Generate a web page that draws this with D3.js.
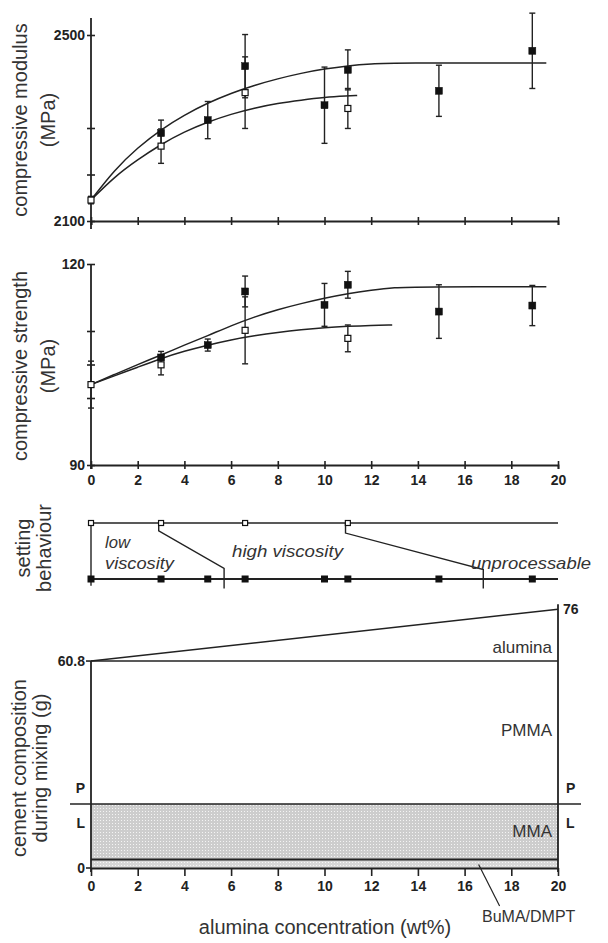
<!DOCTYPE html>
<html>
<head>
<meta charset="utf-8">
<script src="https://cdn.jsdelivr.net/npm/d3@7"></script>
<style>
  body { margin: 0; background: #fff; }
  svg { display: block; font-family: "Liberation Sans", Arial, sans-serif; }
</style>
</head>
<body>
<svg id="fig" width="608" height="943"></svg>
<script>
// ---- data ----
// alumina concentration (wt%) of the tested cements
var concFilled = [3, 5, 6.6, 10, 11, 14.9, 18.9];
var concOpen = [0, 3, 6.6, 11];
var xTickValues = [0, 2, 4, 6, 8, 10, 12, 14, 16, 18, 20];

// compressive modulus (MPa)
var modFilled = [2289, 2317, 2433, 2349, 2425, 2380, 2466];
var modFilledErr = [28, 40, 68, 82, 43, 55, 81];
var modOpen = [2145, 2261, 2376, 2342];
var modOpenErr = [8, 37, 77, 43];
var modFitFilledX = [0, 1, 2, 3, 4, 5, 6, 7, 8, 9, 10, 11, 12, 13, 19.5];
var modFitFilledY = [2145, 2210, 2258, 2297, 2328, 2354, 2375, 2392, 2406, 2418, 2427, 2434, 2438, 2440, 2440];
var modFitOpenX = [0, 1, 2, 3, 4, 5, 6, 7, 8, 9, 10, 11, 11.4];
var modFitOpenY = [2145, 2195, 2232, 2265, 2292, 2313, 2330, 2343, 2353, 2360, 2366, 2369, 2370];
var modTicks = [2100, 2200, 2300, 2500];

// compressive strength (MPa)
var strFilled = [106.05, 107.9, 115.9, 113.9, 116.9, 112.9, 113.8];
var strFilledErr = [0.9, 0.9, 2.3, 3.2, 2.0, 4.0, 3.0];
var strOpen = [102.0, 104.95, 110.1, 108.9];
var strOpenErr = [3.5, 1.5, 5.0, 2.0];
var strFitFilledX = [0, 1, 2, 3, 4, 5, 6, 7, 8, 9, 10, 11, 12, 13, 14, 19.5];
var strFitFilledY = [102, 103.5, 105, 106.4, 107.9, 109.3, 110.8, 112.1, 113.2, 114.1, 114.9, 115.6, 116.1, 116.5, 116.6, 116.6];
var strFitOpenX = [0, 1, 2, 3, 4, 5, 6, 7, 8, 9, 10, 11, 12, 12.9];
var strFitOpenY = [102, 103.3, 104.6, 105.9, 107, 107.9, 108.7, 109.3, 109.8, 110.2, 110.5, 110.7, 110.85, 110.9];
var strTicks = [90, 100, 105, 110, 120];

// setting behaviour: open row (top) and filled row (bottom), region borders
var setOpen = [0, 3, 6.6, 11];
var setFilled = [0, 3, 5, 6.6, 10, 11, 14.9, 18.9];
var borderLowX = [2.9, 2.9, 5.7, 5.7];
var borderLowY = [1, 0.86, 0.19, -0.17];
var borderHighX = [10.9, 10.9, 16.8, 16.8];
var borderHighY = [1, 0.82, 0.17, -0.17];

// cement composition during mixing (g)
var compX = [0, 20];
var compTotal = [60.8, 76];
var compPowder = [60.8, 60.8];
var compLiquid = [18.8, 18.8];
var compBuma = [2.5, 2.5];

var ink = '#222';
var svg = d3.select('#fig');

// shared x scale (alumina wt%)
var x = d3.scaleLinear().domain([0, 20]).range([91, 558]);

// stipple pattern for the liquid part
var pat = svg.append('defs').append('pattern')
    .attr('id', 'stipple')
    .attr('width', 3).attr('height', 3)
    .attr('patternUnits', 'userSpaceOnUse');
pat.append('rect').attr('width', 3).attr('height', 3).attr('fill', '#cdcdcd');
pat.append('rect').attr('x', 1).attr('y', 1).attr('width', 1).attr('height', 1).attr('fill', '#f4f4f4');

// rotated two-line axis title
function yTitle(lines, cx, cy, gap) {
    lines.forEach(function (t, i) {
        svg.append('text')
            .attr('transform', 'translate(' + (cx + i * gap) + ',' + cy + ') rotate(-90)')
            .attr('text-anchor', 'middle')
            .attr('dominant-baseline', 'central')
            .attr('font-size', 20)
            .attr('fill', '#333')
            .text(t);
    });
}

// x axis with ticks crossing the line
function crossXAxis(y0, labels) {
    var g = svg.append('g')
        .attr('transform', 'translate(0,' + y0 + ')')
        .call(d3.axisBottom(x).tickValues(xTickValues).tickSizeOuter(0).tickSize(4)
            .tickFormat(labels ? d3.format('d') : ''));
    g.select('.domain').attr('stroke', ink).attr('stroke-width', 1.8);
    g.selectAll('.tick line').attr('y1', -4).attr('y2', 4).attr('stroke', ink).attr('stroke-width', 1.6);
    g.selectAll('.tick text')
        .attr('y', 10)
        .attr('font-family', '"Liberation Sans", Arial, sans-serif')
        .attr('font-size', 14).attr('font-weight', 'bold').attr('fill', ink);
    return g;
}

// y axis with crossing ticks, labels only at the ends
function crossYAxis(y, ticks, top, bottom) {
    var lo = ticks[0], hi = ticks[ticks.length - 1];
    var g = svg.append('g')
        .attr('transform', 'translate(' + x(0) + ',0)')
        .call(d3.axisLeft(y).tickValues(ticks).tickSize(4).tickSizeOuter(0)
            .tickFormat(function (d) { return (d === lo || d === hi) ? d : ''; }));
    g.select('.domain').remove();
    g.append('line').attr('y1', top).attr('y2', bottom)
        .attr('stroke', ink).attr('stroke-width', 1.8);
    g.selectAll('.tick line').attr('x1', -4).attr('x2', 4).attr('stroke', ink).attr('stroke-width', 1.6);
    g.selectAll('.tick text')
        .attr('x', -6)
        .attr('font-family', '"Liberation Sans", Arial, sans-serif')
        .attr('font-size', 14).attr('font-weight', 'bold').attr('fill', ink);
}

// fit curve, error bars and both marker series
function drawSeries(y, fitFX, fitFY, fitOX, fitOY, fv, fe, ov, oe) {
    var line = d3.line()
        .x(function (d) { return x(d[0]); })
        .y(function (d) { return y(d[1]); })
        .curve(d3.curveBasis);
    [[fitFX, fitFY], [fitOX, fitOY]].forEach(function (c) {
        svg.append('path')
            .datum(d3.zip(c[0], c[1]))
            .attr('d', line)
            .attr('fill', 'none').attr('stroke', ink).attr('stroke-width', 1.5);
    });
    var pts = d3.zip(concFilled, fv, fe).map(function (d) { return { c: d[0], v: d[1], e: d[2], filled: true }; })
        .concat(d3.zip(concOpen, ov, oe).map(function (d) { return { c: d[0], v: d[1], e: d[2], filled: false }; }));
    var g = svg.append('g');
    pts.forEach(function (d) {
        var px = x(d.c);
        g.append('line').attr('x1', px).attr('x2', px)
            .attr('y1', y(d.v - d.e)).attr('y2', y(d.v + d.e))
            .attr('stroke', ink).attr('stroke-width', 1.4);
        [d.v - d.e, d.v + d.e].forEach(function (v) {
            g.append('line').attr('x1', px - 3).attr('x2', px + 3)
                .attr('y1', y(v)).attr('y2', y(v))
                .attr('stroke', ink).attr('stroke-width', 1.4);
        });
    });
    pts.forEach(function (d) {
        var s = d.filled ? 7 : 6;
        g.append('rect')
            .attr('x', x(d.c) - s / 2).attr('y', y(d.v) - s / 2)
            .attr('width', s).attr('height', s)
            .attr('fill', d.filled ? '#111' : '#fff')
            .attr('stroke', '#111').attr('stroke-width', d.filled ? 0.5 : 1.2);
    });
}

// ---- panel 1: compressive modulus ----
var yMod = d3.scaleLinear().domain([2100, 2500]).range([221, 35]);
crossXAxis(yMod(2100), false);
crossYAxis(yMod, modTicks, 18, 229);
drawSeries(yMod, modFitFilledX, modFitFilledY, modFitOpenX, modFitOpenY,
    modFilled, modFilledErr, modOpen, modOpenErr);
yTitle(['compressive modulus', '(MPa)'], 20, 120, 28);

// ---- panel 2: compressive strength ----
var yStr = d3.scaleLinear().domain([90, 120]).range([465, 264]);
crossXAxis(yStr(90), true);
crossYAxis(yStr, strTicks, 264, 469);
drawSeries(yStr, strFitFilledX, strFitFilledY, strFitOpenX, strFitOpenY,
    strFilled, strFilledErr, strOpen, strOpenErr);
yTitle(['compressive strength', '(MPa)'], 20, 366, 28);

// ---- panel 3: setting behaviour ----
var ySet = d3.scaleLinear().domain([0, 1]).range([579, 523]);
var gs = svg.append('g');
[0, 1].forEach(function (r) {
    gs.append('line').attr('x1', x(0)).attr('x2', x(20))
        .attr('y1', ySet(r)).attr('y2', ySet(r))
        .attr('stroke', ink).attr('stroke-width', r ? 1.6 : 2);
});
gs.append('line').attr('x1', x(0)).attr('x2', x(0))
    .attr('y1', ySet(1)).attr('y2', ySet(-0.12))
    .attr('stroke', ink).attr('stroke-width', 1.4);
var setLine = d3.line()
    .x(function (d) { return x(d[0]); })
    .y(function (d) { return ySet(d[1]); });
[[borderLowX, borderLowY], [borderHighX, borderHighY]].forEach(function (b) {
    gs.append('path').datum(d3.zip(b[0], b[1])).attr('d', setLine)
        .attr('fill', 'none').attr('stroke', ink).attr('stroke-width', 1.4);
});
gs.selectAll('.sf').data(setFilled).enter().append('rect')
    .attr('x', function (d) { return x(d) - 3.5; }).attr('y', ySet(0) - 3.5)
    .attr('width', 7).attr('height', 7).attr('fill', '#111');
gs.selectAll('.so').data(setOpen).enter().append('rect')
    .attr('x', function (d) { return x(d) - 2.5; }).attr('y', ySet(1) - 2.5)
    .attr('width', 5).attr('height', 5)
    .attr('fill', '#fff').attr('stroke', '#111').attr('stroke-width', 1.2);
[['low', 105, 542, 25], ['viscosity', 105, 563, 69], ['high viscosity', 232, 551, 111], ['unprocessable', 471, 563, 120]]
    .forEach(function (t) {
        gs.append('text').attr('x', t[1]).attr('y', t[2])
            .attr('dominant-baseline', 'central')
            .attr('font-size', 17).attr('font-style', 'italic').attr('fill', '#333')
            .attr('textLength', t[3]).attr('lengthAdjust', 'spacingAndGlyphs')
            .text(t[0]);
    });
yTitle(['setting', 'behaviour'], 23, 548, 21);

// ---- panel 4: cement composition during mixing ----
var yComp = d3.scaleLinear().domain([0, 76]).range([868, 609.3]);
var gc = svg.append('g');
var area = d3.area()
    .x(function (d) { return x(d[0]); })
    .y0(function (d) { return yComp(d[1]); })
    .y1(function (d) { return yComp(d[2]); });
gc.append('path').datum(d3.zip(compX, compBuma, compLiquid)).attr('d', area)
    .attr('fill', 'url(#stipple)');
gc.append('path').datum(d3.zip(compX, [0, 0], compBuma)).attr('d', area)
    .attr('fill', 'url(#stipple)').attr('opacity', 0.8);
var compLine = d3.line()
    .x(function (d) { return x(d[0]); })
    .y(function (d) { return yComp(d[1]); });
[[compTotal, 1.5], [compPowder, 1.5], [compBuma, 2]].forEach(function (l) {
    gc.append('path').datum(d3.zip(compX, l[0])).attr('d', compLine)
        .attr('fill', 'none').attr('stroke', ink).attr('stroke-width', l[1]);
});
// powder / liquid split reaches past both axes
gc.append('line').attr('x1', 70).attr('x2', 581)
    .attr('y1', yComp(compLiquid[0])).attr('y2', yComp(compLiquid[0]))
    .attr('stroke', ink).attr('stroke-width', 1.6);
// side axes
gc.append('line').attr('x1', x(0)).attr('x2', x(0))
    .attr('y1', yComp(compTotal[0])).attr('y2', yComp(0) + 4)
    .attr('stroke', ink).attr('stroke-width', 1.8);
gc.append('line').attr('x1', x(20)).attr('x2', x(20))
    .attr('y1', yComp(compTotal[1]) - 5).attr('y2', yComp(0) + 4)
    .attr('stroke', ink).attr('stroke-width', 1.8);
[compTotal[0], 0].forEach(function (v) {
    gc.append('line').attr('x1', x(0) - 5).attr('x2', x(0))
        .attr('y1', yComp(v)).attr('y2', yComp(v))
        .attr('stroke', ink).attr('stroke-width', 1.6);
});
// bottom axis
var gb = svg.append('g')
    .attr('transform', 'translate(0,' + yComp(0) + ')')
    .call(d3.axisBottom(x).tickValues(xTickValues).tickSize(8).tickSizeOuter(0).tickFormat(d3.format('d')));
gb.select('.domain').attr('stroke', ink).attr('stroke-width', 2);
gb.selectAll('.tick line').attr('stroke', ink).attr('stroke-width', 1.6);
gb.selectAll('.tick text').attr('y', 13)
    .attr('font-family', '"Liberation Sans", Arial, sans-serif')
    .attr('font-size', 14).attr('font-weight', 'bold').attr('fill', ink);

// value and P/L labels on both sides
function sideLabel(t, px, py, anchor) {
    gc.append('text').attr('x', px).attr('y', py)
        .attr('text-anchor', anchor).attr('dominant-baseline', 'central')
        .attr('font-size', 14).attr('font-weight', 'bold').attr('fill', ink)
        .text(t);
}
sideLabel('60.8', x(0) - 6, yComp(compTotal[0]), 'end');
sideLabel('0', x(0) - 6, yComp(0), 'end');
sideLabel('P', x(0) - 6, yComp(compLiquid[0]) - 16, 'end');
sideLabel('L', x(0) - 6, yComp(compLiquid[0]) + 19, 'end');
sideLabel('76', x(20) + 5, yComp(compTotal[1]), 'start');
sideLabel('P', x(20) + 8, yComp(compLiquid[0]) - 16, 'start');
sideLabel('L', x(20) + 8, yComp(compLiquid[0]) + 19, 'start');

// layer names
[['alumina', 647], ['PMMA', 730], ['MMA', 831]].forEach(function (t) {
    gc.append('text').attr('x', 552).attr('y', t[1])
        .attr('text-anchor', 'end').attr('dominant-baseline', 'central')
        .attr('font-size', 17).attr('fill', '#333').text(t[0]);
});
gc.append('line').attr('x1', x(16.6)).attr('y1', yComp(1.0))
    .attr('x2', x(17.5)).attr('y2', 906)
    .attr('stroke', ink).attr('stroke-width', 1.2);
gc.append('text').attr('x', 482).attr('y', 916)
    .attr('dominant-baseline', 'central')
    .attr('font-size', 16).attr('fill', '#333').text('BuMA/DMPT');

svg.append('text').attr('x', 325).attr('y', 927)
    .attr('text-anchor', 'middle').attr('dominant-baseline', 'central')
    .attr('font-size', 20).attr('fill', '#333')
    .text('alumina concentration (wt%)');
yTitle(['cement composition', 'during mixing (g)'], 19, 768, 21);
</script>
</body>
</html>
